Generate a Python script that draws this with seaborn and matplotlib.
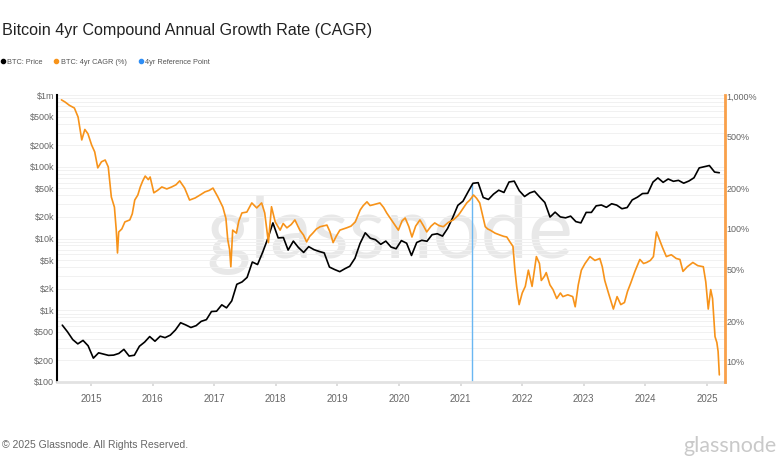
import pandas as pd
import seaborn as sns
import matplotlib.pyplot as plt
from matplotlib.lines import Line2D
from matplotlib.ticker import FixedLocator, LogLocator, NullFormatter

sns.set_theme(style="white")
plt.rcParams['font.family'] = ['Liberation Sans', 'DejaVu Sans']

# BTC price, monthly (mid-month), from Jul 2014 to Mar 2025
price_start = "2014-07-01"
btc_price = [
    620, 500, 390, 340, 380, 320,
    215, 255, 245, 235, 237, 250, 285, 230, 236, 315, 360, 430,
    370, 435, 415, 450, 530, 670, 625, 575, 610, 700, 740, 960,
    970, 1190, 1080, 1350, 2300, 2480, 2870, 4700, 4340, 6400, 10000, 16500,
    10200, 10300, 6900, 9200, 7500, 6400, 7700, 7000, 6600, 6300, 4000, 3700,
    3450, 3800, 4100, 5300, 8500, 12000, 10100, 9600, 8300, 9200, 7600, 7200,
    9350, 8600, 5800, 8800, 9450, 9150, 11300, 11650, 10800, 13800, 19700, 29000,
    33100, 45000, 58800, 60000, 37300, 35000, 41500, 47100, 43800, 61300, 63000, 46300,
    38500, 43200, 45500, 37700, 31800, 19900, 23300, 20000, 19400, 20500, 17200, 16500,
    23100, 23100, 28500, 29300, 27200, 30500, 29200, 26000, 27000, 34500, 37700, 42300,
    42600, 61200, 70000, 60600, 67500, 62700, 64600, 59000, 63300, 70200, 96400, 100000,
    104000, 84300, 82500,
]

# 4yr CAGR (%)
cagr_year = [
    2014.52, 2014.58, 2014.65, 2014.73, 2014.79, 2014.85, 2014.90, 2014.95,
    2015.01, 2015.06, 2015.11, 2015.17, 2015.23, 2015.28, 2015.33, 2015.38,
    2015.41, 2015.43, 2015.45, 2015.50, 2015.55, 2015.63, 2015.67, 2015.71,
    2015.76, 2015.80, 2015.84, 2015.88, 2015.93, 2015.96, 2016.02, 2016.08,
    2016.15, 2016.23, 2016.31, 2016.38, 2016.44, 2016.52, 2016.60, 2016.69,
    2016.77, 2016.85, 2016.92, 2016.98, 2017.06, 2017.14, 2017.19, 2017.22,
    2017.25, 2017.27, 2017.30, 2017.36, 2017.40, 2017.45, 2017.53, 2017.61,
    2017.69, 2017.77, 2017.82, 2017.88, 2017.93, 2017.99, 2018.07, 2018.12,
    2018.18, 2018.25, 2018.31, 2018.39, 2018.45, 2018.50, 2018.55, 2018.60,
    2018.66, 2018.72, 2018.83, 2018.88, 2018.93, 2018.98, 2019.04, 2019.15,
    2019.22, 2019.29, 2019.37, 2019.42, 2019.48, 2019.53, 2019.58, 2019.69,
    2019.75, 2019.80, 2019.86, 2019.91, 2019.99, 2020.05, 2020.10, 2020.16,
    2020.21, 2020.27, 2020.34, 2020.40, 2020.45, 2020.52, 2020.58, 2020.65,
    2020.72, 2020.80, 2020.88, 2020.95, 2020.99, 2021.05, 2021.10, 2021.15,
    2021.21, 2021.26, 2021.31, 2021.36, 2021.40, 2021.44, 2021.48, 2021.56,
    2021.64, 2021.70, 2021.75, 2021.80, 2021.85, 2021.88, 2021.91, 2021.95,
    2022.00, 2022.05, 2022.10, 2022.16, 2022.23, 2022.28, 2022.31, 2022.36,
    2022.39, 2022.45, 2022.50, 2022.56, 2022.62, 2022.66, 2022.74, 2022.82,
    2022.86, 2022.91, 2022.96, 2023.02, 2023.10, 2023.18, 2023.26, 2023.30,
    2023.34, 2023.40, 2023.48, 2023.54, 2023.60, 2023.66, 2023.71, 2023.76,
    2023.83, 2023.91, 2023.97, 2024.02, 2024.08, 2024.13, 2024.18, 2024.22,
    2024.28, 2024.34, 2024.42, 2024.50, 2024.56, 2024.61, 2024.68, 2024.77,
    2024.85, 2024.94, 2024.98, 2025.02, 2025.06, 2025.09, 2025.13, 2025.16,
    2025.18, 2025.20,
]
cagr_pct = [
    935, 900, 850, 812, 695, 467, 560, 520,
    428, 380, 288, 320, 330, 293, 174, 146,
    98, 66, 95, 100, 113, 117, 130, 165,
    180, 207, 230, 250, 235, 246, 187, 195,
    207, 200, 207, 215, 230, 203, 165, 171,
    180, 190, 195, 203, 174, 146, 120, 83,
    70, 52, 98, 93, 115, 132, 134, 157,
    144, 157, 132, 79, 147, 113, 98, 110,
    102, 108, 117, 98, 90, 80, 88, 93,
    100, 104, 107, 95, 79, 88, 98, 102,
    105, 113, 139, 150, 160, 150, 152, 157,
    145, 132, 120, 111, 98, 115, 121, 104,
    87, 105, 117, 105, 95, 105, 111, 106,
    104, 112, 117, 125, 132, 145, 157, 165,
    180, 170, 157, 125, 104, 100, 98, 93,
    90, 88, 87, 80, 74, 50, 37, 27,
    33, 37, 49, 37, 62, 55, 41, 44,
    47, 38, 35, 30, 33, 31, 32, 31,
    26, 38, 49, 55, 62, 58, 60, 52,
    41, 33, 25, 31, 27, 28, 34, 39,
    48, 59, 55, 56, 58, 62, 95, 85,
    72, 62, 64, 60, 59, 48, 52, 56,
    53, 52, 40, 25, 35, 30, 15.5, 14,
    12, 8,
]

# 4yr reference point (Mar 2021)
ref_year = 2021.19
ref_price = 57800

price_ticks = [100, 200, 500, 1e3, 2e3, 5e3, 1e4, 2e4, 5e4, 1e5, 2e5, 5e5, 1e6]
price_labels = ["$100", "$200", "$500", "$1k", "$2k", "$5k", "$10k", "$20k",
                "$50k", "$100k", "$200k", "$500k", "$1m"]
cagr_ticks = [10, 20, 50, 100, 200, 500, 1000]
cagr_labels = ["10%", "20%", "50%", "100%", "200%", "500%", "1,000%"]
years = list(range(2015, 2026))

months = pd.date_range(price_start, periods=len(btc_price), freq="MS") + pd.Timedelta(days=14)
price_df = pd.DataFrame({"year": months.year + (months.dayofyear - 1) / 365.25,
                         "price": btc_price})
cagr_df = pd.DataFrame({"year": cagr_year, "cagr": cagr_pct})

fig = plt.figure(figsize=(7.8, 4.7), dpi=100)
ax = fig.add_axes([57 / 780, 88 / 470, 668 / 780, 287 / 470])
ax2 = ax.twinx()

# watermark
ax.text(0.4985, 0.435, "glassnode", transform=ax.transAxes, ha="center", va="baseline",
        fontsize=61, color="#e8e8e8", family=["Lato", "DejaVu Sans"], zorder=0)

sns.lineplot(data=price_df, x="year", y="price", ax=ax, color="black", lw=1.2, zorder=3)
ax.vlines(ref_year, 100, ref_price, color="#6ab7f2", lw=1.0, zorder=2)
sns.lineplot(data=cagr_df, x="year", y="cagr", ax=ax2, color="#f7931a", lw=1.2)

ax.set_yscale("log")
ax.set_ylim(100, 1e6)
ax2.set_yscale("log")
ax2.set_ylim(7.07, 1017)
ax.set_xlim(2014.448, 2025.292)

ax.yaxis.set_major_locator(FixedLocator(price_ticks))
ax.set_yticklabels(price_labels)
ax.yaxis.set_minor_locator(LogLocator(base=10, subs=range(2, 10)))
ax.yaxis.set_minor_formatter(NullFormatter())
ax.grid(which="both", axis="y", color="#f1f1f1", lw=0.7)
ax.grid(False, axis="x")
ax.set_xticks(years)
ax.set_xticklabels([str(y) for y in years])

ax2.yaxis.set_major_locator(FixedLocator(cagr_ticks))
ax2.set_yticklabels(cagr_labels)
ax2.yaxis.set_minor_formatter(NullFormatter())
ax2.tick_params(axis="y", which="minor", length=0)
ax2.grid(False)

ax.tick_params(axis="y", which="both", length=0, labelsize=6.5, labelcolor="#666666", pad=2)
ax.tick_params(axis="x", length=3, color="#d8d8d8", labelsize=7, labelcolor="#666666",
               pad=6, bottom=True)
ax2.tick_params(axis="y", length=0, labelsize=6.5, labelcolor="#666666", pad=1)

ax.set_xlabel("")
ax.set_ylabel("")
ax2.set_ylabel("")

for s in ["top", "right"]:
    ax.spines[s].set_visible(False)
ax.spines["left"].set_color("black")
ax.spines["left"].set_linewidth(1.5)
ax.spines["bottom"].set_color("#e2e2e2")
ax.spines["bottom"].set_linewidth(2)
for s in ["top", "left", "bottom"]:
    ax2.spines[s].set_visible(False)
ax2.spines["right"].set_color("#f9a04a")
ax2.spines["right"].set_linewidth(2)

fig.text(0.002, 0.936, "Bitcoin 4yr Compound Annual Growth Rate (CAGR)",
         fontsize=11.6, color="#222222", va="center")

handles = [
    Line2D([], [], marker="o", ls="", color="black", markersize=3),
    Line2D([], [], marker="o", ls="", color="#f7931a", markersize=3),
    Line2D([], [], marker="o", ls="", color="#2f8ef5", markersize=3),
]
fig.legend(handles, ["BTC: Price", "BTC: 4yr CAGR (%)", "4yr Reference Point"],
           loc="center left", bbox_to_anchor=(-0.01, 0.868), ncol=3, frameon=False,
           fontsize=5.3, handletextpad=0.1, columnspacing=1.4, handlelength=1,
           labelcolor="#555555")

fig.text(0.002, 0.053, "\u00a9 2025 Glassnode. All Rights Reserved.",
         fontsize=7.5, color="#666666", va="center")
fig.text(0.876, 0.05, "glassnode", fontsize=15.5, color="#c9c9c9", va="center",
         family=["Lato", "DejaVu Sans"])

fig.savefig("out.png", dpi=100)
